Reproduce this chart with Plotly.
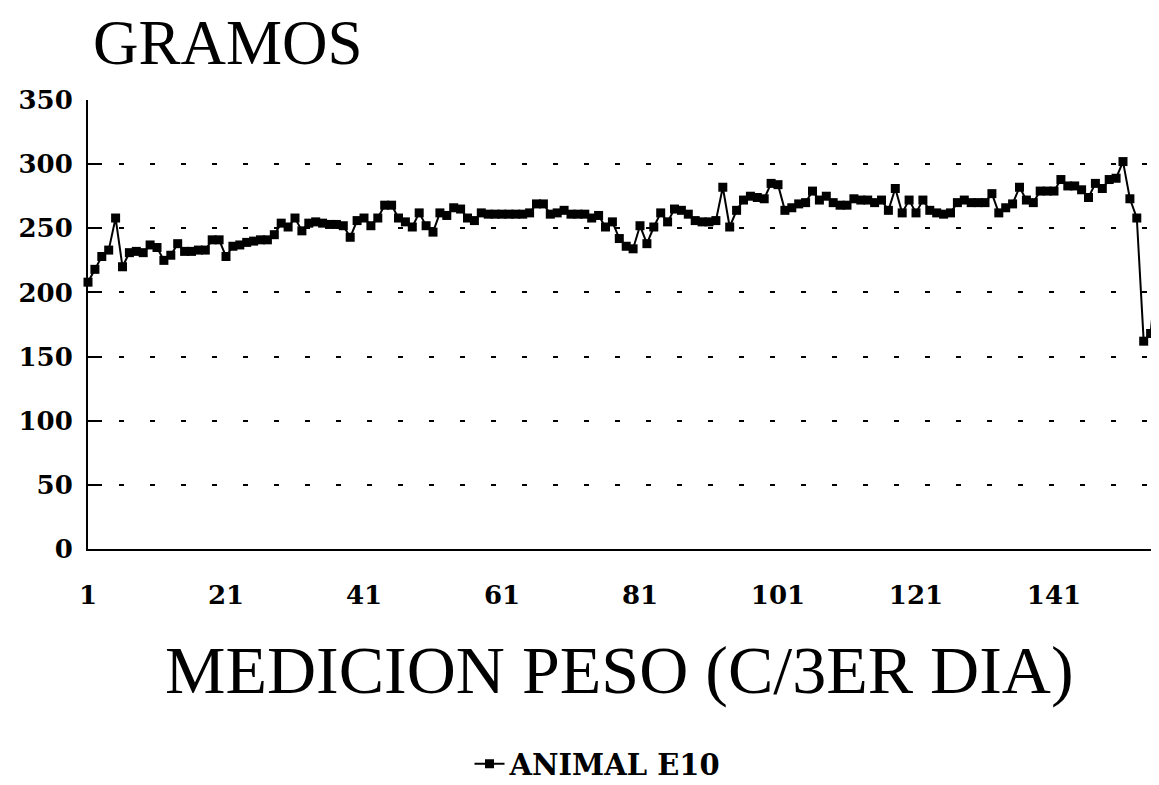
import plotly.graph_objects as go

# Weight measurements (grams), one every 3rd day
weights = [
    208, 218, 228, 233, 258, 220, 231, 232, 231, 237,
    235, 225, 229, 238, 232, 232, 233, 233, 241, 241,
    228, 236, 237, 239, 240, 241, 241, 245, 254, 251,
    258, 248, 254, 255, 254, 253, 253, 252, 243, 256,
    258, 252, 258, 268, 268, 258, 255, 251, 262, 252,
    247, 262, 260, 266, 265, 258, 256, 262, 261, 261,
    261, 261, 261, 261, 262, 269, 269, 261, 262, 264,
    261, 261, 261, 258, 260, 251, 255, 242, 236, 234,
    252, 238, 251, 262, 255, 265, 264, 261, 256, 255,
    255, 256, 282, 251, 264, 272, 275, 274, 273, 285,
    284, 264, 266, 269, 270, 279, 272, 275, 270, 268,
    268, 273, 272, 272, 270, 272, 264, 281, 262, 272,
    262, 272, 264, 262, 261, 262, 270, 272, 270, 270,
    270, 277, 262, 266, 269, 282, 272, 270, 279, 279,
    279, 288, 283, 283, 280, 274, 285, 281, 288, 289,
    302, 273, 258, 162, 168, 223, 168,
]
measurements = list(range(1, len(weights) + 1))

x_tick_vals = [1, 21, 41, 61, 81, 101, 121, 141]
x_tick_text = ["1", "21", "41", "61", "81", "101", "121", "141"]
y_tick_vals = [0, 50, 100, 150, 200, 250, 300, 350]

series_name = "ANIMAL E10"
title_text = "GRAMOS"
x_title_text = "MEDICION PESO (C/3ER DIA)"

# The page body has an 8px default margin; compensate so the figure fills the window.
OFF = 8
W, H = 1159 - OFF, 785 - OFF
L, R, T, B = 88 - OFF, 0, 100 - OFF, 236
plot_w = W - L - R
plot_h = H - T - B


def px(xr):
    return (xr - 88) / plot_w


def py(yr):
    return (549 - yr) / plot_h


fig = go.Figure()
fig.add_trace(go.Scatter(
    x=measurements, y=weights, mode="lines+markers", name=series_name,
    line=dict(color="black", width=2),
    marker=dict(symbol="square", size=9, color="black"),
    cliponaxis=False,
))

tick_font = dict(family="DejaVu Serif", size=26, color="black", weight="bold")

fig.update_layout(
    width=W, height=H,
    margin=dict(l=L, r=R, t=T, b=B, pad=0, autoexpand=False),
    paper_bgcolor="white", plot_bgcolor="white",
    showlegend=True,
    legend=dict(
        orientation="h", x=px(598), xanchor="center",
        y=py(764), yanchor="middle",
        font=dict(family="DejaVu Serif", size=29, color="black", weight="bold"),
        bgcolor="rgba(0,0,0,0)", itemwidth=30,
    ),
    xaxis=dict(
        range=[1, 1 + plot_w / 6.9], tickmode="array",
        tickvals=x_tick_vals, ticktext=x_tick_text,
        showgrid=False, zeroline=False, automargin=False,
        showline=True, linecolor="black", linewidth=2,
        ticks="", tickfont=tick_font, ticklabelstandoff=22,
    ),
    yaxis=dict(
        range=[0, 350], tickmode="array", tickvals=y_tick_vals,
        showgrid=True, gridcolor="black", gridwidth=2, griddash="5px,26px",
        zeroline=False, showline=True, linecolor="black", linewidth=2,
        automargin=False,
        ticks="inside", ticklen=14, tickwidth=2, tickcolor="black",
        tickfont=tick_font, ticklabelstandoff=8,
    ),
    annotations=[
        dict(text=title_text, xref="paper", yref="paper",
             x=px(91), y=py(43),
             xanchor="left", yanchor="middle", showarrow=False,
             font=dict(family="Liberation Serif", size=63, color="black")),
        dict(text=x_title_text, xref="paper", yref="paper",
             x=px(619), y=py(670),
             xanchor="center", yanchor="middle", showarrow=False,
             font=dict(family="Liberation Serif", size=68, color="black")),
    ],
)

fig.write_html("out.html")
